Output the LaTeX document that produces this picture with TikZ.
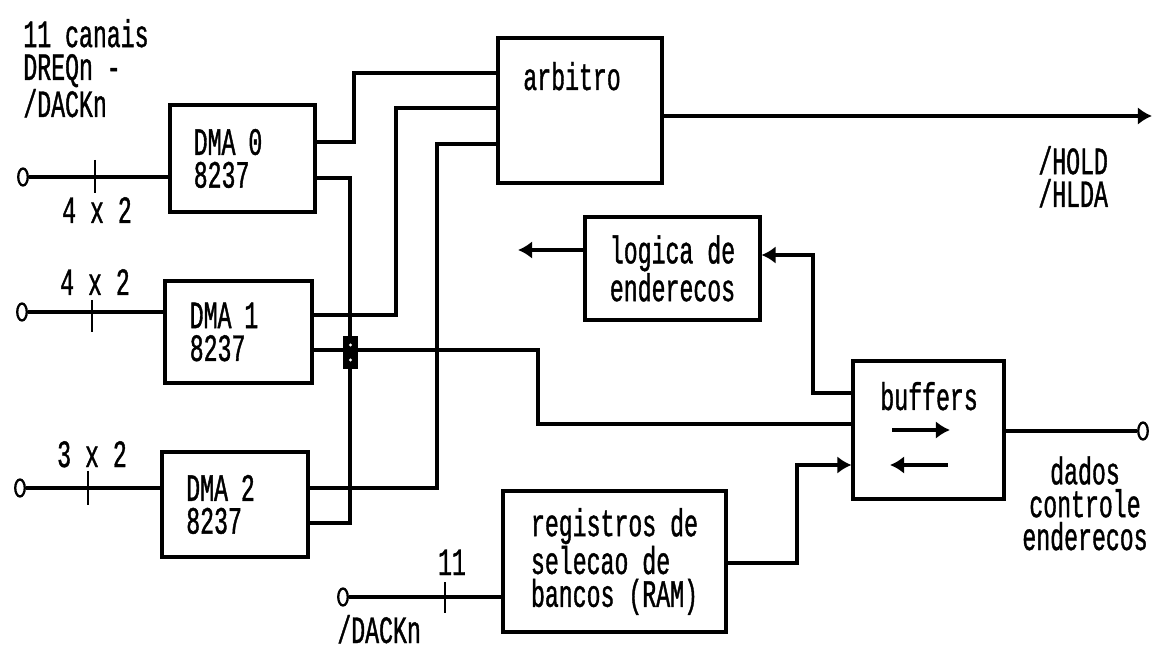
\documentclass[tikz,border=0pt]{standalone}
\usepackage{fontspec}
\newfontfamily\dotfont[FakeStretch=0.6, FakeBold=1]{Liberation Mono}
\newcommand\dotsize{\dotfont\fontsize{22}{18.7}\selectfont}
\usetikzlibrary{arrows.meta,shapes.geometric,positioning}

\tikzset{
  box/.style={draw, line width=1.8pt, inner sep=0pt, align=left, font=\dotsize},
  dmabox/.style={box, text width=1.95cm, minimum height=2.1cm},
  txt/.style={inner sep=0pt, align=left, font=\dotsize},
  wire/.style={line width=1.8pt},
  arr/.style={wire, -{Latex[length=8pt,width=10pt]}},
  term/.style={draw, ellipse, line width=1.3pt, minimum width=0.19cm,
    minimum height=0.34cm, inner sep=0pt},
  tick/.style={line width=1pt}
}

\begin{document}
\begin{tikzpicture}[x=0.02cm, y=-0.02cm]
    \useasboundingbox (0,0) rectangle (1170,648);

    % blocos
    \node[dmabox, minimum width=2.9cm, minimum height=2.14cm] (dma0) at (242.5,158.5) {DMA 0\\8237};
    \node[dmabox, minimum width=2.94cm, minimum height=2.04cm] (dma1) at (238.5,332) {DMA 1\\8237};
    \node[dmabox, minimum width=2.92cm] (dma2) at (235,504.5) {DMA 2\\8237};
    \node[box, minimum width=3.28cm, minimum height=2.9cm] (arbitro) at (580,110.5) {};
    \node[box, minimum width=3.5cm, minimum height=2.06cm] (logica) at (672.5,268.5) {logica de\\enderecos};
    \node[box, minimum width=3.02cm, minimum height=2.76cm] (buffers) at (928.5,430) {};
    \node[box, minimum width=4.46cm, minimum height=2.82cm] (registros) at (614.5,561.5) {registros de\\selecao de\\bancos (RAM)};

    \node[txt, anchor=base west] (arbtxt) at (523,90) {arbitro};
    \node[txt, anchor=base west] (buftxt) at (880,410) {buffers};

    % entradas
    \node[txt, anchor=base west] (canais) at (23,117) {11 canais\\DREQn -\\/DACKn};

    \node[term] (t0) at (23,177) {};
    \draw[wire] (t0.east) -- (t0 -| dma0.west);
    \draw[tick] (95,160) -- (95,193);
    \node[txt, anchor=base] (n0) at (97,223) {4 x 2};

    \node[term] (t1) at (22,312) {};
    \draw[wire] (t1.east) -- (t1 -| dma1.west);
    \draw[tick] (92,300) -- (92,332);
    \node[txt, anchor=base] (n1) at (95,295) {4 x 2};

    \node[term] (t2) at (20,488) {};
    \draw[wire] (t2.east) -- (t2 -| dma2.west);
    \draw[tick] (88,471) -- (88,505);
    \node[txt, anchor=base] (n2) at (92,467) {3 x 2};

    \node[term] (tr) at (343,597) {};
    \draw[wire] (tr.east) -- (tr -| registros.west);
    \draw[tick] (445,582) -- (445,613);
    \node[txt, anchor=base] (n3) at (452,575) {11};
    \node[txt, anchor=base west] (dackn) at (337,643) {/DACKn};

    % barramentos DMA -> arbitro
    \draw[wire] (dma0.east |- 0,142) -| (354,73) -- (arbitro.west |- 0,73);
    \draw[wire] (dma1.east |- 0,315) -| (396,108) -- (arbitro.west |- 0,108);
    \draw[wire] (dma2.east |- 0,488) -| (437,144) -- (arbitro.west |- 0,144);
    \draw[wire] (dma0.east |- 0,178) -- (350,178) -- (350,523) -- (dma2.east |- 0,523);
    \draw[wire] (dma1.east |- 0,350) -| (538,424) -- (buffers.west |- 0,424);
    \fill (343,336) rectangle (358,369);
    \fill[white] (350.5,345) circle[radius=0.9pt] (350.5,360) circle[radius=0.9pt];

    % saidas
    \coordinate (hold) at (1152,116);
    \draw[arr] (arbitro.east |- hold) -- (hold);
    \node[txt, anchor=base west] (holdtxt) at (1038,207) {/HOLD\\/HLDA};

    \coordinate (laddr) at (518,250);
    \draw[arr] (logica.west |- laddr) -- (laddr);
    \draw[arr] (buffers.west |- 0,393) -| (813,255) -- (logica.east |- 0,255);
    \draw[arr] (registros.east |- 0,563) -| (797,465) -- (buffers.west |- 0,465);

    \coordinate (bufa) at (892,430);
    \coordinate (bufb) at (950,430);
    \coordinate (bufc) at (948,465);
    \coordinate (bufd) at (890,465);
    \draw[arr] (bufa) -- (bufb);
    \draw[arr] (bufc) -- (bufd);

    \node[term] (tout) at (1143,431) {};
    \draw[wire] (buffers.east |- tout) -- (tout.west);
    \node[txt, anchor=base, align=center] (dados) at (1085,550) {dados\\controle\\enderecos};
\end{tikzpicture}
\end{document}
